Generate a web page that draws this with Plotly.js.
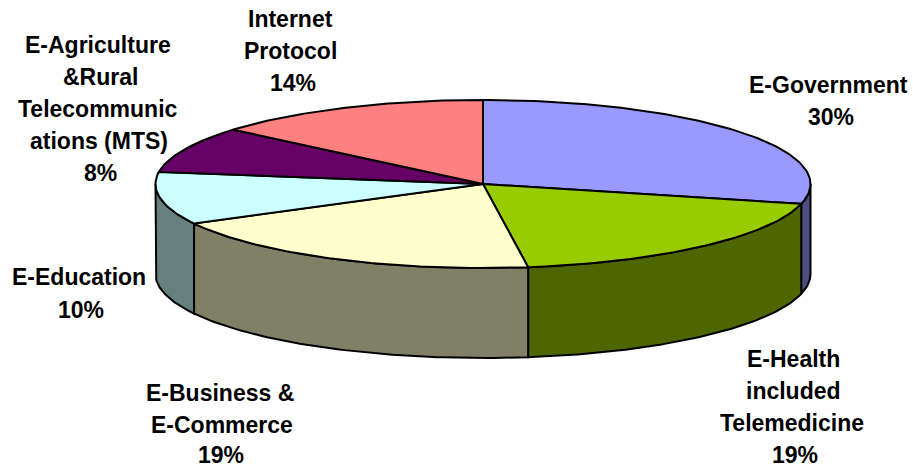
<!DOCTYPE html>
<html><head><meta charset="utf-8">
<script src="https://cdn.plot.ly/plotly-3.0.1.min.js"></script>
<style>html,body{margin:0;padding:0;background:#fff}</style></head>
<body><div id="chart" style="width:913px;height:467px"></div>
<script>
const categories = ["E-Government","E-Health included Telemedicine","E-Business & E-Commerce","E-Education","E-Agriculture & Rural Telecommunications (MTS)","Internet Protocol"];
const sliceShares = [28.8, 19.0, 19.4, 10.1, 8.9, 13.8];
const topColors = ["#9999ff","#99cc00","#ffffcc","#ccffff","#660066","#ff8080"];
const sideColors = ["#4d4d80","#4d6600","#808066","#668080","#330033","#804040"];
const labelLines = [
  ["E-Government",828,85],["30%",831,117],
  ["E-Health",793,359],["included",793,391],["Telemedicine",792,423],["19%",795,455],
  ["E-Business &",220,393],["E-Commerce",222,425],["19%",221,455],
  ["E-Education",79,277],["10%",81,310],
  ["E-Agriculture",98,45],["&Rural",100,77],["Telecommunic",98,109],["ations (MTS)",99,141],["8%",100,173],
  ["Internet",290,19],["Protocol",290,51],["14%",293,83]
];

// Projection of the pie disc
const cx = 483, cy = 184, rx = 327.5, ry = 84, depth = 90;
const px = a => cx + rx * Math.sin(a);
const py = a => cy - ry * Math.cos(a);
const rad = d => d * Math.PI / 180;
const total = sliceShares.reduce((s, v) => s + v, 0);
function arc(a0, a1, dy) {
  const xs = [], ys = [], n = Math.max(2, Math.ceil(Math.abs(a1 - a0)));
  for (let i = 0; i <= n; i++) {
    const a = rad(a0 + (a1 - a0) * i / n);
    xs.push(px(a)); ys.push(py(a) + dy);
  }
  return [xs, ys];
}
const traces = [];
let start = 0;
const spans = sliceShares.map(v => { const s = [start, start + v / total * 360]; start = s[1]; return s; });
const line = {color: "#000", width: 2, shape: "linear"};
spans.forEach((s, i) => {
  const a0 = Math.max(s[0], 90), a1 = Math.min(s[1], 270);
  if (a1 <= a0) return;
  const [tx, ty] = arc(a0, a1, 0), [bx, by] = arc(a1, a0, depth);
  traces.push({type: "scatter", mode: "lines", x: [...tx, ...bx, tx[0]], y: [...ty, ...by, ty[0]],
    fill: "toself", fillcolor: sideColors[i], line, hoverinfo: "skip", showlegend: false});
});
spans.forEach((s, i) => {
  const [tx, ty] = arc(s[0], s[1], 0);
  traces.push({type: "scatter", mode: "lines", name: categories[i], x: [cx, ...tx, cx], y: [cy, ...ty, cy],
    fill: "toself", fillcolor: topColors[i], line, hoverinfo: "name", showlegend: false});
});
const hidden = {visible: false, fixedrange: true};
const layout = {
  width: 913, height: 467, autosize: false, margin: {l: 0, r: 0, t: 0, b: 0},
  paper_bgcolor: "#fff", plot_bgcolor: "#fff", showlegend: false,
  xaxis: {...hidden, range: [0, 913]},
  yaxis: {...hidden, range: [467, 0]},
  annotations: labelLines.map(([text, x, y]) => ({
    text, x, y, xref: "x", yref: "y", showarrow: false, xanchor: "center", yanchor: "middle",
    font: {family: "Liberation Sans, Arial, sans-serif", size: 23, color: "#000", weight: 700}
  }))
};
Plotly.newPlot("chart", traces, layout, {staticPlot: true, displayModeBar: false});
</script></body></html>
